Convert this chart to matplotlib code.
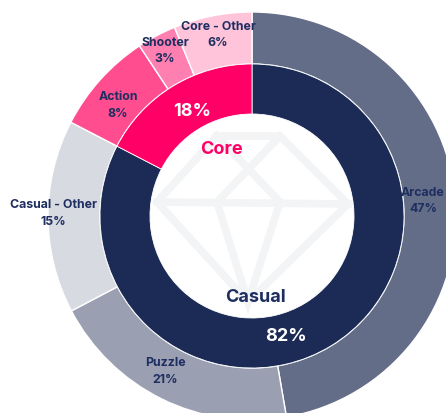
import matplotlib
matplotlib.use('Agg')
import matplotlib.pyplot as plt

plt.rcParams['font.family'] = ['Inter', 'DejaVu Sans']

genres = ['Arcade', 'Puzzle', 'Casual - Other', 'Action', 'Shooter', 'Core - Other']
genre_slices = [47.3, 20.0, 15.3, 8.1, 3.1, 6.2]
genre_pct = [47, 21, 15, 8, 3, 6]
genre_colors = ['#636d88', '#9a9fb2', '#d8dae1', '#ff4d90', '#ff80b0', '#ffc4da']

# inner ring
groups = ['Casual', 'Core']
group_slices = [82.6, 17.4]
group_pct = [82, 18]
group_colors = ['#1b2b55', '#ff0066']

navy = '#1e2e60'
pink = '#ff0066'
H = 414
cx, cy = 252, H - 217

# label positions in pixels, measured from the top left: name y, pct y
genre_xy = [(423, 193, 209), (165, 363, 380), (53, 205, 222), (118, 97, 114), (165, 43, 59), (218, 27, 43)]
group_xy = [(286, 337), (192, 111)]
name_xy = [(255, 298), (221, 149)]

# watermark behind the rings
gem_lines = [
    [(217, 137), (280, 137), (348, 205), (248, 303), (157, 203), (217, 137)],
    [(157, 203), (348, 205)],
    [(217, 137), (280, 203), (248, 303), (217, 203), (280, 137)],
]

fig = plt.figure(figsize=(4.46, 4.14), dpi=100)
ax = fig.add_axes([0, 0, 1, 1])

for line in gem_lines:
    ax.plot([p[0] for p in line], [H - p[1] for p in line], color='#f3f4f5', lw=5.5,
            solid_joinstyle='miter', zorder=1)

ax.pie(genre_slices, colors=genre_colors, startangle=90, counterclock=False,
       radius=204, center=(cx, cy), frame=True,
       wedgeprops=dict(width=52, edgecolor='white', linewidth=1))
ax.pie(group_slices, colors=group_colors, startangle=90, counterclock=False,
       radius=152, center=(cx, cy), frame=True,
       wedgeprops=dict(width=50, edgecolor='white', linewidth=0.6))

for name, pct, (x, y1, y2) in zip(genres, genre_pct, genre_xy):
    ax.text(x, H - y1, name, color=navy, fontsize=8.9, fontweight='bold', ha='center', va='center')
    ax.text(x, H - y2, '%d%%' % pct, color=navy, fontsize=8.9, fontweight='bold', ha='center', va='center')
for pct, (x, y) in zip(group_pct, group_xy):
    ax.text(x, H - y, '%d%%' % pct, color='white', fontsize=13, fontweight='bold',
            ha='center', va='center')
ax.text(name_xy[0][0], H - name_xy[0][1], groups[0], color=navy, fontsize=13, fontweight='bold',
        ha='center', va='center')
ax.text(name_xy[1][0], H - name_xy[1][1], groups[1], color=pink, fontsize=13, fontweight='bold',
        ha='center', va='center')

ax.set_xlim(0, 446)
ax.set_ylim(0, H)
ax.set_aspect('equal')
ax.axis('off')
fig.savefig('out.png', dpi=100)
